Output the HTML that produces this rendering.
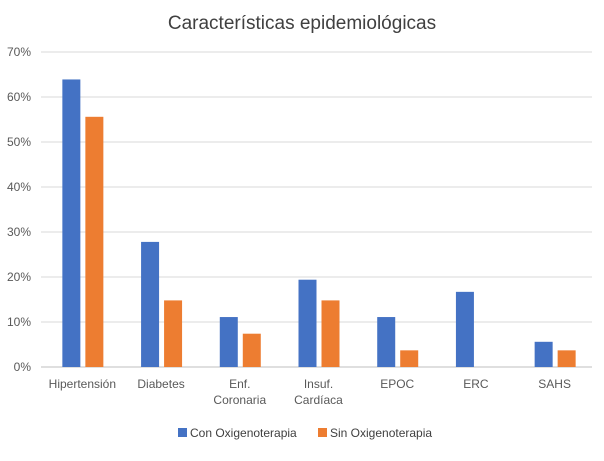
<!DOCTYPE html>
<html><head><meta charset="utf-8"><style>
body{margin:0;background:#fff;font-family:"Liberation Sans",sans-serif}
</style></head><body>
<svg id="c" width="604" height="456" xmlns="http://www.w3.org/2000/svg">
<rect width="604" height="456" fill="#fff"/>
<text x="302" y="29" text-anchor="middle" font-size="19" fill="#404040" font-family="Liberation Sans, sans-serif">Características epidemiológicas</text>
<g id="grid"></g><g id="bars"></g><g id="labels"></g>
<g>
<rect x="178" y="428" width="9" height="9" fill="#4472c4"/>
<text x="190" y="437" font-size="12" fill="#404040">Con Oxigenoterapia</text>
<rect x="318" y="428" width="9" height="9" fill="#ed7d31"/>
<text x="330" y="437" font-size="12" fill="#404040">Sin Oxigenoterapia</text>
</g>
</svg>
<script>
const categories=[["Hipertensión"],["Diabetes"],["Enf.","Coronaria"],["Insuf.","Cardíaca"],["EPOC"],["ERC"],["SAHS"]];
const conValues=[63.9,27.8,11.1,19.4,11.1,16.7,5.6];
const sinValues=[55.6,14.8,7.4,14.8,3.7,0,3.7];
const ticks=[0,10,20,30,40,50,60,70];
const NS="http://www.w3.org/2000/svg";
const x0=41,x1=592,y0=367,y70=52;
const y=v=>y0-(v/70)*(y0-y70);
const band=(x1-x0)/categories.length;
const cx=i=>x0+band*(i+0.5);
function mk(t,a,p){const e=document.createElementNS(NS,t);for(const k in a)e.setAttribute(k,a[k]);p.appendChild(e);return e;}
const g=document.getElementById('grid'),b=document.getElementById('bars'),l=document.getElementById('labels');
ticks.forEach(t=>{
 const ln=mk('line',{x1:x0,x2:x1,y1:y(t),y2:y(t),stroke:t===0?'#bfbfbf':'#d9d9d9','stroke-width':1},g);
 
 
 const tx=mk('text',{x:31,y:y(t)+4,'text-anchor':'end','font-size':12,fill:'#595959'},l);
 tx.textContent=t+'%';
 
 
});
categories.forEach((c,i)=>{
 const r1=mk('rect',{x:cx(i)-18,y:y(conValues[i]),width:18,height:y0-y(conValues[i]),fill:'#4472c4'},b);
 
 
 const r2=mk('rect',{x:cx(i)+5,y:y(sinValues[i]),width:18,height:y0-y(sinValues[i]),fill:'#ed7d31'},b);
 
 
 c.forEach((s,j)=>{
  const tx=mk('text',{x:cx(i)+2,y:388+j*16,'text-anchor':'middle','font-size':12,fill:'#595959'},l);
  tx.textContent=s;
  
  
 });
});
</script>
</body></html>
